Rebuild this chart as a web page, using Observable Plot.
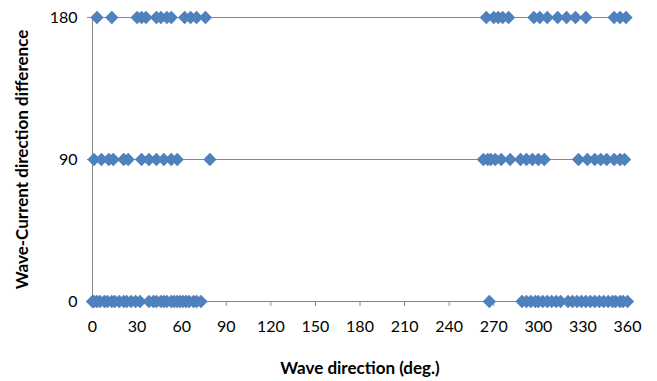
<!DOCTYPE html>
<html><head><meta charset="utf-8">
<script src="https://cdn.jsdelivr.net/npm/d3@7"></script>
<script src="https://cdn.jsdelivr.net/npm/@observablehq/plot@0.6"></script>
<style>body{margin:0;background:#fff}</style>
</head><body><div id="chart"></div>
<script>
const xTicks = [0, 30, 60, 90, 120, 150, 180, 210, 240, 270, 300, 330, 360];
const yTicks = [0, 90, 180];
const xTitle = "Wave direction (deg.)";
const yTitle = "Wave-Current direction difference";
const dir180 = [3, 13, 30, 33, 36, 43, 46, 50, 53, 62, 66, 70, 76,
  265, 270, 273, 276, 280, 297, 301, 306, 313, 319, 325, 332, 351, 355, 359];
const dir90 = [1, 6, 11, 14, 21, 24, 33, 38, 43, 48, 53, 57, 79,
  263, 266, 268, 271, 275, 281, 288, 292, 296, 300, 304, 327, 333, 338, 342, 346, 351, 355, 358];
const dir0 = [0, 1, 3, 5, 8, 10, 13, 15, 18, 21, 23, 26, 29, 32,
  38, 41, 43, 46, 48, 50, 53, 55, 57, 59, 61, 63, 65, 68, 70, 73,
  267, 289, 292, 295, 298, 300, 303, 306, 309, 312, 315, 320, 323, 326, 329, 332, 335, 338, 341, 344, 347, 350, 352, 355, 357, 360];

const data = [
  ...dir180.map(x => ({x, y: 180})),
  ...dir90.map(x => ({x, y: 90})),
  ...dir0.map(x => ({x, y: 0}))
];
const grey = "#868686";
const chart = Plot.plot({
  width: 657, height: 381,
  marginLeft: 92, marginRight: 30, marginTop: 17, marginBottom: 80,
  style: {fontFamily: "Lato, 'Open Sans', sans-serif", fontSize: "16px", color: "#000", background: "#fff"},
  x: {domain: [0, 360], label: null},
  y: {domain: [0, 180], label: null},
  marks: [
    Plot.ruleY([90, 180], {stroke: grey}),
    Plot.ruleY([0], {stroke: grey}),
    Plot.ruleX([0], {stroke: grey}),
    Plot.axisX({ticks: xTicks, tickSize: 5, tickPadding: 14, stroke: grey, fill: "#000", label: null, fontSize: 16}),
    Plot.axisY({ticks: yTicks, tickSize: 5, tickPadding: 10, stroke: grey, fill: "#000", label: null, fontSize: 16}),
    Plot.dot(data, {x: "x", y: "y", symbol: "diamond2", r: 6, fill: "#4F81BD"}),
    Plot.text([xTitle], {text: d => d, frameAnchor: "bottom", dy: 67, lineAnchor: "middle", fontWeight: "bold", fontSize: 17, fill: "#000"}),
    Plot.text([yTitle], {text: d => d, frameAnchor: "left", dx: -70, rotate: -90, textAnchor: "middle", lineAnchor: "middle", fontWeight: "bold", fontSize: 17, fill: "#000"})
  ]
});
document.getElementById("chart").appendChild(chart);
</script>
</body></html>
